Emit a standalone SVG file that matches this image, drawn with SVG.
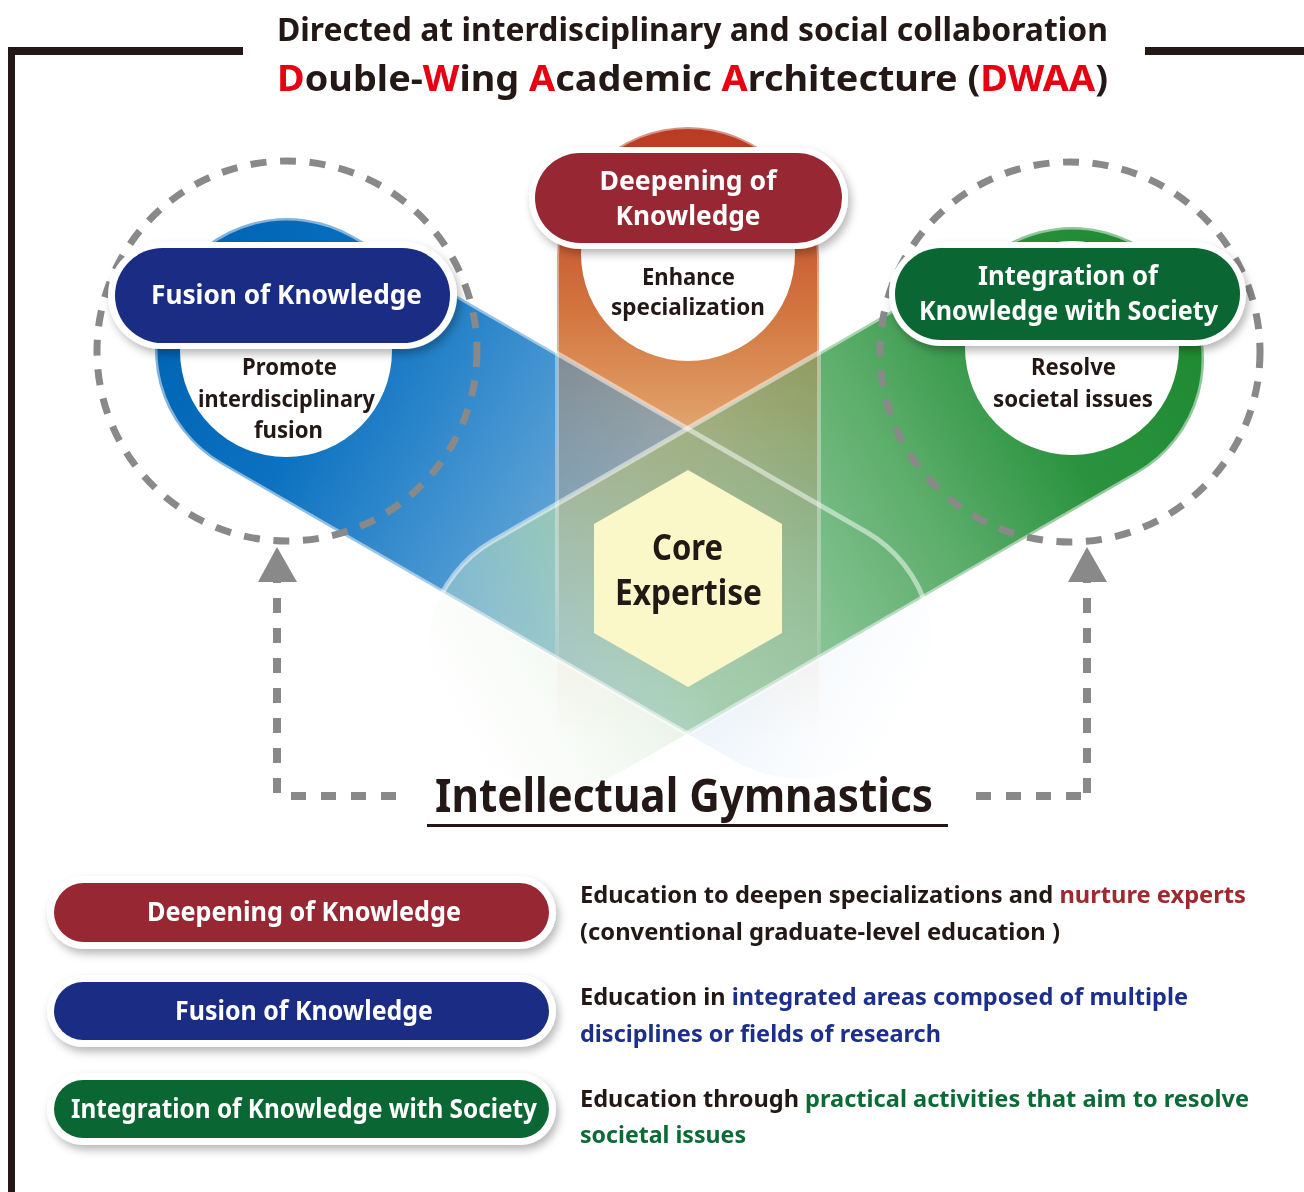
<svg xmlns="http://www.w3.org/2000/svg" xmlns:xlink="http://www.w3.org/1999/xlink" width="1304" height="1192" viewBox="0 0 1304 1192">
<defs>
<style>
.t{font-family:"Noto Sans","Open Sans","Liberation Sans",sans-serif;font-weight:700;}
.dk{fill:#231815}
.wt{fill:#ffffff}
.red{fill:#e60012}
.dash{fill:none;stroke:#898989;stroke-width:7;stroke-dasharray:16 13.6}
.arrow{fill:none;stroke:#898989;stroke-width:8;stroke-dasharray:15 15}
.rim{fill:none;stroke:#ffffff;stroke-opacity:0.5;stroke-width:5}
.pillbg{fill:#ffffff;filter:url(#sh)}
</style>
<filter id="sh" x="-10%" y="-30%" width="125%" height="170%">
<feDropShadow dx="3" dy="5" stdDeviation="4" flood-color="#000000" flood-opacity="0.28"/>
</filter>
<linearGradient id="gBlue" gradientUnits="userSpaceOnUse" x1="-132" y1="0" x2="725" y2="0">
<stop offset="0" stop-color="#0064b4"/>
<stop offset="0.212" stop-color="#0b71c0"/>
<stop offset="0.387" stop-color="#3a8ece"/>
<stop offset="0.562" stop-color="#68a8d8"/>
<stop offset="0.714" stop-color="#8cbee0" stop-opacity="0.92"/>
<stop offset="0.854" stop-color="#b4d4ec" stop-opacity="0.55"/>
<stop offset="1" stop-color="#e0eef8" stop-opacity="0.25"/>
</linearGradient>
<linearGradient id="gGreen" gradientUnits="userSpaceOnUse" x1="-132" y1="0" x2="725" y2="0">
<stop offset="0" stop-color="#1d8a30"/>
<stop offset="0.212" stop-color="#2b9340"/>
<stop offset="0.387" stop-color="#5cad6a"/>
<stop offset="0.562" stop-color="#84c292"/>
<stop offset="0.714" stop-color="#98cca6" stop-opacity="0.92"/>
<stop offset="0.854" stop-color="#b8dcc0" stop-opacity="0.55"/>
<stop offset="1" stop-color="#e4f2e6" stop-opacity="0.25"/>
</linearGradient>
<linearGradient id="gBlueF" gradientUnits="userSpaceOnUse" x1="400" y1="0" x2="725" y2="0">
<stop offset="0" stop-color="#d2e3f4"/>
<stop offset="1" stop-color="#eef5fb" stop-opacity="0"/>
</linearGradient>
<linearGradient id="gGreenF" gradientUnits="userSpaceOnUse" x1="400" y1="0" x2="725" y2="0">
<stop offset="0" stop-color="#d6e9d2"/>
<stop offset="1" stop-color="#eef6ec" stop-opacity="0"/>
</linearGradient>
<linearGradient id="gCol" gradientUnits="userSpaceOnUse" x1="0" y1="127" x2="0" y2="740">
<stop offset="0" stop-color="#b93a22"/>
<stop offset="0.15" stop-color="#c65531"/>
<stop offset="0.3" stop-color="#d2753f"/>
<stop offset="0.45" stop-color="#de9a62"/>
<stop offset="0.6" stop-color="#e8b886" stop-opacity="0.9"/>
<stop offset="0.75" stop-color="#efcca4" stop-opacity="0.6"/>
<stop offset="0.9" stop-color="#f4dcc0" stop-opacity="0.2"/>
<stop offset="1" stop-color="#f4dcc0" stop-opacity="0"/>
</linearGradient>
<linearGradient id="gColM" gradientUnits="userSpaceOnUse" x1="0" y1="127" x2="0" y2="740">
<stop offset="0" stop-color="#b93a22"/>
<stop offset="0.3" stop-color="#d2753f"/>
<stop offset="0.45" stop-color="#c89060"/>
<stop offset="0.65" stop-color="#b8a890" stop-opacity="0.9"/>
<stop offset="0.85" stop-color="#c8c4b4" stop-opacity="0.6"/>
<stop offset="1" stop-color="#e0dcd0" stop-opacity="0.2"/>
</linearGradient>
<linearGradient id="gColRim" gradientUnits="userSpaceOnUse" x1="0" y1="127" x2="0" y2="700">
<stop offset="0" stop-color="#ffffff" stop-opacity="0.45"/>
<stop offset="0.8" stop-color="#ffffff" stop-opacity="0.3"/>
<stop offset="1" stop-color="#ffffff" stop-opacity="0"/>
</linearGradient>
<path id="cap" d="M0,-132H593A132,132 0 0 1 593,132H0A132,132 0 0 1 0,-132Z"/>
<path id="col" d="M557,258A131,131 0 0 1 819,258V740H557Z"/>
<clipPath id="aboveG"><polygon points="0,0 1304,0 1304,378.4 0,1131.2"/></clipPath>
<clipPath id="belowG"><polygon points="0,1131.2 1304,378.4 1304,1192 0,1192"/></clipPath>
<clipPath id="aboveB"><polygon points="0,0 1304,0 1304,1089.6 0,336.8"/></clipPath>
<clipPath id="belowB"><polygon points="0,336.8 1304,1089.6 1304,1192 0,1192"/></clipPath>
<clipPath id="aboveV"><polygon points="0,0 1304,0 1304,378.4 688,734 0,336.8"/></clipPath>
<clipPath id="bands">
<use xlink:href="#cap" transform="translate(287,350) rotate(30)"/>
<use xlink:href="#cap" transform="translate(1072,359) rotate(150)"/>
</clipPath>
</defs>

<rect width="1304" height="1192" fill="#ffffff"/>

<g id="frame" fill="#231815">
<rect x="8" y="47" width="235" height="8"/>
<rect x="8" y="47" width="7" height="1145"/>
<rect x="1145" y="47" width="159" height="8"/>
</g>

<g id="title" class="t dk">
<text x="692.5" y="41" font-size="32" text-anchor="middle" textLength="831" lengthAdjust="spacingAndGlyphs">Directed at interdisciplinary and social collaboration</text>
<text x="692.5" y="91" font-size="36" text-anchor="middle" textLength="831" lengthAdjust="spacingAndGlyphs"><tspan class="red">D</tspan>ouble-<tspan class="red">W</tspan>ing <tspan class="red">A</tspan>cademic <tspan class="red">A</tspan>rchitecture (<tspan class="red">DWAA</tspan>)</text>
</g>

<g id="wings">
<use xlink:href="#col" fill="url(#gCol)"/>
<g clip-path="url(#aboveG)"><use xlink:href="#cap" transform="translate(287,350) rotate(30)" fill="url(#gBlue)"/></g>
<g clip-path="url(#belowG)"><use xlink:href="#cap" transform="translate(287,350) rotate(30)" fill="url(#gBlueF)"/></g>
<g clip-path="url(#aboveB)"><use xlink:href="#cap" transform="translate(1072,359) rotate(150)" fill="url(#gGreen)"/></g>
<g clip-path="url(#belowB)"><use xlink:href="#cap" transform="translate(1072,359) rotate(150)" fill="url(#gGreenF)"/></g>
<g clip-path="url(#aboveV)"><g clip-path="url(#bands)"><use xlink:href="#col" fill="url(#gColM)" style="mix-blend-mode:multiply" opacity="0.45"/></g></g>
<g clip-path="url(#aboveG)"><use xlink:href="#cap" transform="translate(287,350) rotate(30)" class="rim"/></g>
<g clip-path="url(#aboveB)"><use xlink:href="#cap" transform="translate(1072,359) rotate(150)" class="rim"/></g>
<use xlink:href="#col" fill="none" stroke="url(#gColRim)" stroke-width="4"/>
</g>

<g id="node-core">
<polygon points="688,470 782,524 782,633 688,687 594,633 594,524" fill="#faf7c9"/>
<text class="t dk" x="687.5" y="560" font-size="35" text-anchor="middle" textLength="71" lengthAdjust="spacingAndGlyphs">Core</text>
<text class="t dk" x="688.5" y="605" font-size="35" text-anchor="middle" textLength="147" lengthAdjust="spacingAndGlyphs">Expertise</text>
</g>

<g id="node-deepening">
<circle cx="688" cy="254" r="107" fill="#ffffff"/>
<text class="t dk" x="688.5" y="285" font-size="23" text-anchor="middle" textLength="93" lengthAdjust="spacingAndGlyphs">Enhance</text>
<text class="t dk" x="688" y="315" font-size="23" text-anchor="middle" textLength="154" lengthAdjust="spacingAndGlyphs">specialization</text>
<rect class="pillbg" x="529" y="147" width="319" height="102" rx="51"/>
<rect x="535" y="153" width="307" height="90" rx="45" fill="#972733"/>
<text class="t wt" x="688" y="190" font-size="27" text-anchor="middle" textLength="177" lengthAdjust="spacingAndGlyphs">Deepening of</text>
<text class="t wt" x="688" y="225" font-size="27" text-anchor="middle" textLength="145" lengthAdjust="spacingAndGlyphs">Knowledge</text>
</g>

<g id="node-fusion">
<circle cx="286" cy="351" r="106" fill="#ffffff"/>
<circle cx="287" cy="351" r="190" class="dash"/>
<text class="t dk" x="289.5" y="375" font-size="23" text-anchor="middle" textLength="95" lengthAdjust="spacingAndGlyphs">Promote</text>
<text class="t dk" x="286.5" y="407" font-size="23" text-anchor="middle" textLength="177" lengthAdjust="spacingAndGlyphs">interdisciplinary</text>
<text class="t dk" x="288.5" y="438" font-size="23" text-anchor="middle" textLength="69" lengthAdjust="spacingAndGlyphs">fusion</text>
<rect class="pillbg" x="108" y="242" width="349" height="107" rx="53.5"/>
<rect x="115" y="248" width="335" height="95" rx="47.5" fill="#1b2c84"/>
<text class="t wt" x="286.5" y="304" font-size="27" text-anchor="middle" textLength="271" lengthAdjust="spacingAndGlyphs">Fusion of Knowledge</text>
</g>

<g id="node-integration">
<circle cx="1072" cy="348" r="107" fill="#ffffff"/>
<circle cx="1070" cy="352" r="190" class="dash"/>
<text class="t dk" x="1073.5" y="375" font-size="23" text-anchor="middle" textLength="85" lengthAdjust="spacingAndGlyphs">Resolve</text>
<text class="t dk" x="1073" y="407" font-size="23" text-anchor="middle" textLength="160" lengthAdjust="spacingAndGlyphs">societal issues</text>
<rect class="pillbg" x="889" y="242" width="357" height="104" rx="52"/>
<rect x="895" y="248" width="345" height="92" rx="46" fill="#0a6632"/>
<text class="t wt" x="1068" y="285" font-size="27" text-anchor="middle" textLength="180" lengthAdjust="spacingAndGlyphs">Integration of</text>
<text class="t wt" x="1068.5" y="320" font-size="27" text-anchor="middle" textLength="299" lengthAdjust="spacingAndGlyphs">Knowledge with Society</text>
</g>

<g id="connectors">
<path class="arrow" d="M277,568V795M291,796H397"/>
<polygon points="277,547 297,582 258,582" fill="#898989"/>
<path class="arrow" d="M1087,568V795M1081,796H975"/>
<polygon points="1087,547 1107,582 1068,582" fill="#898989"/>
</g>

<g id="node-gymnastics">
<text class="t dk" x="684" y="812" font-size="47" text-anchor="middle" textLength="498" lengthAdjust="spacingAndGlyphs">Intellectual Gymnastics</text>
<rect x="427" y="824" width="521" height="3" fill="#231815"/>
</g>

<g id="legend-deepening">
<rect class="pillbg" x="47" y="876" width="509" height="73" rx="36.5"/>
<rect x="54" y="883" width="495" height="59" rx="29.5" fill="#972733"/>
<text class="t wt" x="304" y="921" font-size="27" text-anchor="middle" textLength="314" lengthAdjust="spacingAndGlyphs">Deepening of Knowledge</text>
<text class="t dk" x="580" y="903" font-size="24" textLength="666" lengthAdjust="spacingAndGlyphs">Education to deepen specializations and <tspan fill="#a0282f">nurture experts</tspan></text>
<text class="t dk" x="580" y="940" font-size="24" textLength="480" lengthAdjust="spacingAndGlyphs">(conventional graduate-level education )</text>
</g>

<g id="legend-fusion">
<rect class="pillbg" x="47" y="975" width="509" height="72" rx="36"/>
<rect x="54" y="982" width="495" height="58" rx="29" fill="#1b2c84"/>
<text class="t wt" x="304" y="1020" font-size="27" text-anchor="middle" textLength="258" lengthAdjust="spacingAndGlyphs">Fusion of Knowledge</text>
<text class="t dk" x="580" y="1005" font-size="24" textLength="608" lengthAdjust="spacingAndGlyphs">Education in <tspan fill="#1d2f8c">integrated areas composed of multiple</tspan></text>
<text class="t" x="580" y="1042" font-size="24" fill="#1d2f8c" textLength="361" lengthAdjust="spacingAndGlyphs">disciplines or fields of research</text>
</g>

<g id="legend-integration">
<rect class="pillbg" x="47" y="1073" width="509" height="72" rx="36"/>
<rect x="54" y="1080" width="495" height="58" rx="29" fill="#0a6632"/>
<text class="t wt" x="304" y="1118" font-size="27" text-anchor="middle" textLength="466" lengthAdjust="spacingAndGlyphs">Integration of Knowledge with Society</text>
<text class="t dk" x="580" y="1107" font-size="24" textLength="669" lengthAdjust="spacingAndGlyphs">Education through <tspan fill="#0b6a35">practical activities that aim to resolve</tspan></text>
<text class="t" x="580" y="1143" font-size="24" fill="#0b6a35" textLength="166" lengthAdjust="spacingAndGlyphs">societal issues</text>
</g>
</svg>
